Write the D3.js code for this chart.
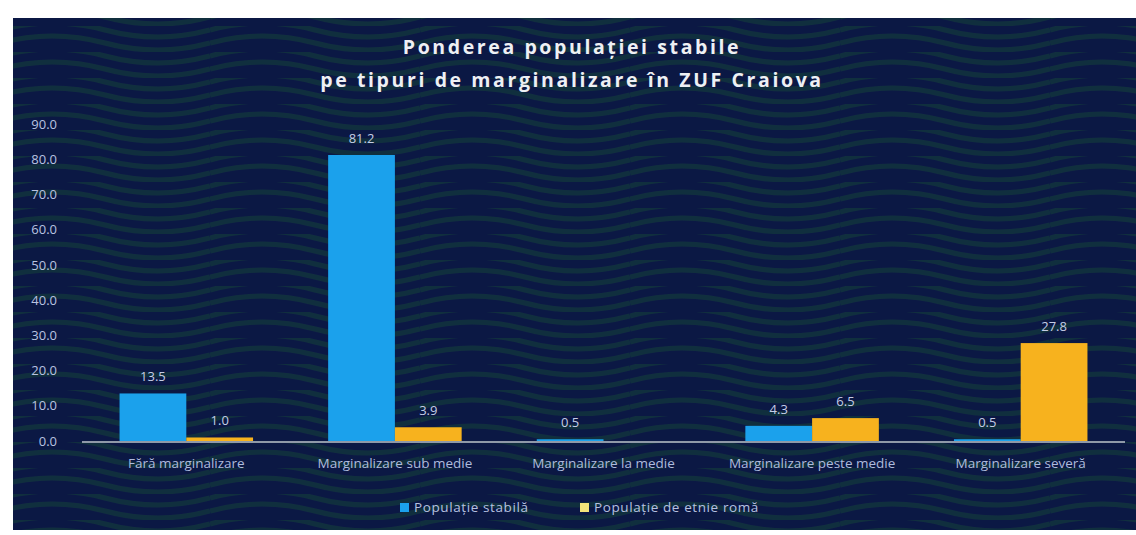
<!DOCTYPE html>
<html>
<head>
<meta charset="utf-8">
<script src="https://cdn.jsdelivr.net/npm/d3@7"></script>
<style>
  body { margin: 0; background: #fff; }
  svg { display: block; }
</style>
</head>
<body>
<svg id="chart" width="1136" height="535"></svg>
<script>
const categories = [
  "Fără marginalizare",
  "Marginalizare sub medie",
  "Marginalizare la medie",
  "Marginalizare peste medie",
  "Marginalizare severă"
];
const seriesNames = ["Populație stabilă", "Populație de etnie romă"];
const stabila = [13.5, 81.2, 0.5, 4.3, 0.5];
const roma = [1.0, 3.9, null, 6.5, 27.8];
const yTicks = [0, 10, 20, 30, 40, 50, 60, 70, 80, 90];
const titleLines = ["Ponderea populației stabile", "pe tipuri de marginalizare în ZUF Craiova"];

const colors = ["#1ba1ec", "#f7b21e"];

const svg = d3.select("#chart");
const W = 1136, H = 535;

// panel background + zigzag texture
const defs = svg.append("defs");
const pat = defs.append("pattern")
  .attr("id", "zig")
  .attr("patternUnits", "userSpaceOnUse")
  .attr("width", 210)
  .attr("height", 26);
pat.append("rect").attr("width", 210).attr("height", 26).attr("fill", "#0b1844");
pat.append("path")
  .attr("d", "M0,4 Q52,-10 105,4 T210,4 M0,17 Q52,3 105,17 T210,17")
  .attr("fill", "none")
  .attr("stroke", "#12393c")
  .attr("stroke-width", 5)
  .attr("opacity", 0.7);

svg.append("rect")
  .attr("x", 13).attr("y", 18)
  .attr("width", W - 13).attr("height", 512)
  .attr("fill", "url(#zig)");

const margin = { left: 82, right: 11, top: 124, bottom: 94 };
const x0 = d3.scaleBand()
  .domain(categories)
  .range([margin.left, W - margin.right])
  .padding(0);
const x1 = d3.scaleBand()
  .domain(seriesNames)
  .range([x0.bandwidth() * 0.18, x0.bandwidth() * 0.82])
  .padding(0);
const y = d3.scaleLinear()
  .domain([0, 90])
  .range([H - margin.bottom, margin.top]);

const font = "'Open Sans', sans-serif";

// title
svg.append("g")
  .selectAll("text")
  .data(titleLines)
  .join("text")
  .attr("x", 572)
  .attr("y", (d, i) => 54 + i * 33)
  .attr("text-anchor", "middle")
  .style("font-family", font)
  .style("font-weight", "bold")
  .style("font-size", "19.5px")
  .style("letter-spacing", "2.6px")
  .style("fill", "#eef0f4")
  .text((d) => d);

// y axis (labels only)
const yAxis = d3.axisLeft(y)
  .tickValues(yTicks)
  .tickFormat(d3.format(".1f"))
  .tickSize(0)
  .tickPadding(0);
const yG = svg.append("g")
  .attr("transform", "translate(57,0)")
  .call(yAxis);
yG.select(".domain").remove();
yG.selectAll("text")
  .style("font-family", font)
  .style("font-size", "13px")
  .style("fill", "#b9c3e0");

// bars
const rows = categories.map((c, i) => ({
  category: c,
  values: [
    { name: seriesNames[0], value: stabila[i], ci: 0 },
    { name: seriesNames[1], value: roma[i], ci: 1 }
  ]
}));

const groups = svg.append("g")
  .selectAll("g")
  .data(rows)
  .join("g")
  .attr("transform", (d) => `translate(${x0(d.category)},0)`);

groups.selectAll("rect")
  .data((d) => d.values.filter((v) => v.value != null))
  .join("rect")
  .attr("x", (d) => x1(d.name))
  .attr("y", (d) => y(d.value))
  .attr("width", x1.bandwidth())
  .attr("height", (d) => y(0) - y(d.value))
  .attr("fill", (d) => colors[d.ci]);

groups.selectAll(".val")
  .data((d) => d.values.filter((v) => v.value != null))
  .join("text")
  .attr("class", "val")
  .attr("x", (d) => x1(d.name) + x1.bandwidth() / 2)
  .attr("y", (d) => y(d.value) - 12)
  .attr("text-anchor", "middle")
  .style("font-family", font)
  .style("font-size", "13px")
  .style("fill", "#c4cde6")
  .text((d) => d3.format(".1f")(d.value));

// baseline
svg.append("line")
  .attr("x1", margin.left).attr("x2", W - margin.right)
  .attr("y1", y(0) + 1).attr("y2", y(0) + 1)
  .attr("stroke", "#8f99a8")
  .attr("stroke-width", 2);

// category axis
const xAxis = d3.axisBottom(x0).tickSize(0).tickPadding(0);
const xG = svg.append("g")
  .attr("transform", `translate(0,${y(0) + 17})`)
  .call(xAxis);
xG.select(".domain").remove();
xG.selectAll("text")
  .attr("dy", "0.71em")
  .style("font-family", font)
  .style("font-size", "13.5px")
  .style("fill", "#aebbdd");

// legend
const legendX = [400, 580];
const legend = svg.append("g")
  .selectAll("g")
  .data(seriesNames)
  .join("g")
  .attr("transform", (d, i) => `translate(${legendX[i]},508)`);
legend.append("rect")
  .attr("x", 0).attr("y", -5)
  .attr("width", 9).attr("height", 9)
  .attr("fill", (d, i) => (i === 0 ? colors[0] : "#f3e47a"));
legend.append("text")
  .attr("x", 14).attr("y", 4)
  .style("font-family", font)
  .style("font-size", "13.5px")
  .style("letter-spacing", "0.6px")
  .style("fill", "#b6c1e0")
  .text((d) => d);
</script>
</body>
</html>
